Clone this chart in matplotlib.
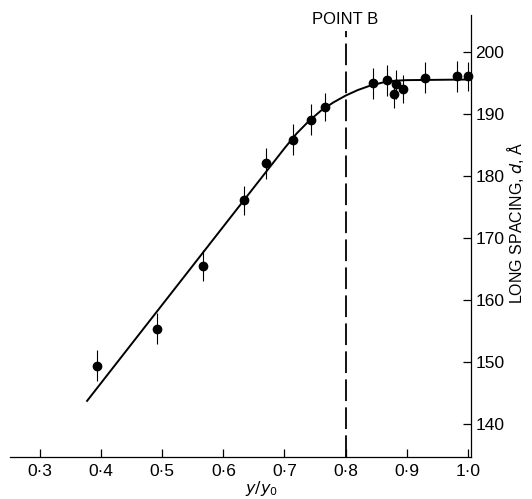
import matplotlib
matplotlib.use("Agg")
import matplotlib.pyplot as plt

plt.rcParams["font.family"] = ["Liberation Sans", "DejaVu Sans"]

# measured points (y/y0, long spacing in Angstrom) with error half-widths
ratio = [0.393, 0.492, 0.567, 0.634, 0.670, 0.714, 0.744, 0.767,
         0.845, 0.868, 0.880, 0.883, 0.894, 0.930, 0.983, 1.000]
spacing = [149.5, 155.4, 165.6, 176.1, 182.1, 185.9, 189.1, 191.2,
           195.0, 195.5, 193.3, 194.8, 194.1, 195.9, 196.1, 196.1]
err = [2.5, 2.5, 2.5, 2.3, 2.5, 2.5, 2.5, 2.3,
       2.5, 2.5, 2.3, 2.3, 2.3, 2.5, 2.5, 2.3]

# hand-drawn fitted curve
curve_x = [0.377, 0.45, 0.50, 0.55, 0.60, 0.65, 0.70, 0.72, 0.74, 0.76,
           0.78, 0.80, 0.82, 0.84, 0.86, 0.88, 0.90, 1.00]
curve_y = [143.8, 153.0, 159.3, 165.6, 171.9, 178.2, 184.5, 186.9, 188.9, 190.6,
           191.9, 193.0, 193.9, 194.6, 195.1, 195.4, 195.5, 195.6]

xticks = [0.3, 0.4, 0.5, 0.6, 0.7, 0.8, 0.9, 1.0]
xlabels = ["0·3", "0·4", "0·5", "0·6", "0·7", "0·8", "0·9", "1·0"]
yticks = [140, 150, 160, 170, 180, 190, 200]
point_b = 0.8

fig = plt.figure(figsize=(5.32, 4.99), dpi=100)
ax = fig.add_axes([10 / 532, 1 - 456.7 / 499, 461 / 532, 441.7 / 499])

ax.plot(curve_x, curve_y, color="black", lw=1.4, zorder=2)
ax.errorbar(ratio, spacing, yerr=err, fmt="o", color="black", ms=6,
            elinewidth=0.8, capsize=0, zorder=3, clip_on=False)
ax.plot([point_b, point_b], [134.8, 203.4], color="black", lw=1.3,
        dashes=(12, 3.5), clip_on=False)
ax.text(point_b, 205.3, "POINT B", ha="center", va="center", fontsize=12)

ax.set_xlim(0.2508, 1.0054)
ax.set_ylim(134.8, 206)
for s in ("left", "top"):
    ax.spines[s].set_visible(False)
ax.spines["bottom"].set_linewidth(0.9)
ax.spines["right"].set_linewidth(0.9)

ax.set_xticks(xticks)
ax.set_xticklabels(xlabels)
ax.set_yticks(yticks)
ax.yaxis.tick_right()
ax.tick_params(axis="both", direction="in", length=6, width=0.9, labelsize=12.5)
ax.tick_params(axis="x", pad=5)
ax.tick_params(axis="y", pad=3)

fig.text(515 / 532, 1 - 223 / 499, r"LONG SPACING, $d$, Å", rotation=90,
         ha="center", va="center", fontsize=11.5)
fig.text(262 / 532, 1 - 488 / 499, r"$y/y_0$", ha="center", va="center",
         fontsize=11.5)

fig.savefig("out.png", dpi=100)
